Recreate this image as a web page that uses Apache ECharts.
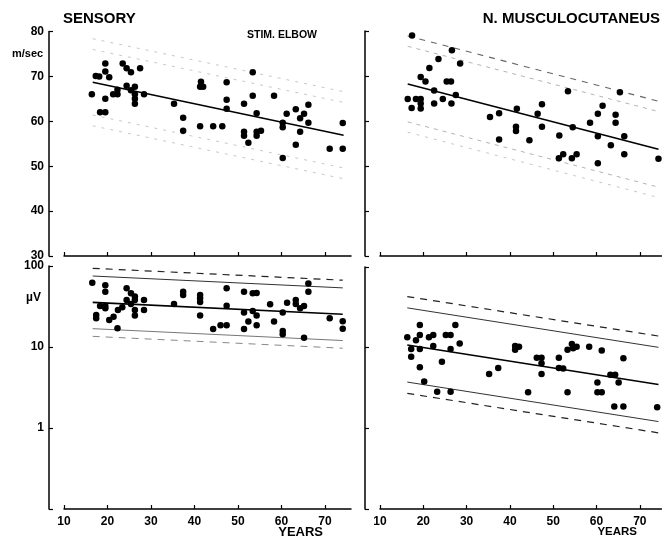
<!DOCTYPE html>
<html><head><meta charset="utf-8">
<script src="https://cdn.jsdelivr.net/npm/echarts@6/dist/echarts.min.js"></script>
<style>html,body{margin:0;padding:0;background:#fff}#c{width:662px;height:538px}</style>
</head><body><div id="c"></div><script>
// ---------- tick values ----------
const xTicks = [10, 20, 30, 40, 50, 60, 70];
const velTicks = [30, 40, 50, 60, 70, 80];
const ampTicks = [0.1, 1, 10, 100];

// ---------- Sensory conduction velocity (m/sec) ----------
const sensVelAge = [16.4,17.3,18.1,19.5,19.5,20.4,18.3,19.5,19.5,21.3,22.3,22.3,23.5,24.4,24.4,25.4,25.4,26.3,26.3,26.3,26.3,27.5,28.4,35.3,37.4,37.4,41.3,41.5,42,41.3,44.3,46.4,47.4,47.4,47.4,51.4,51.4,51.4,52.4,53.4,53.4,54.3,54.3,54.3,55.3,58.3,60.3,60.3,60.3,61.2,63.3,63.3,64.3,64.3,65.2,66.2,66.2,71.1,74.1,74.1];
const sensVel    = [66,70.1,70,72.9,71.1,69.8,62,62,65,66,66,67,72.9,71.8,67.9,70.9,66.9,67.7,66,65,63.9,71.8,66,63.9,60.8,57.9,58.9,68.8,67.7,67.7,58.9,58.9,68.7,64.8,62.8,63.9,57.7,56.8,55.2,70.9,65.7,61.8,57.7,56.8,57.9,65.7,59.7,58.7,51.8,61.7,62.7,54.8,57.7,60.7,61.7,63.7,59.7,53.9,59.6,53.9];
const sensVelFitAge = [16.6, 74.3];
const sensVelFit    = [68.7, 56.9];
const sensVelBands  = [7.3, 9.7];          // inner, outer (m/sec)

// ---------- Musculocutaneous motor velocity (m/sec) ----------
const muscVelAge = [17.4,26.6,23.5,21.4,28.5,19.4,20.5,25.4,26.4,22.5,27.5,16.4,18.3,19.4,24.5,17.3,19.4,19.4,22.5,26.5,35.4,37.5,37.5,41.6,41.4,41.4,44.5,46.4,47.4,47.4,51.4,51.3,52.3,53.4,54.3,55.4,54.5,58.5,60.3,60.3,60.3,61.4,63.3,64.4,64.4,65.4,66.4,66.4,74.3];
const muscVel    = [79,75.7,73.8,71.8,72.8,69.8,68.8,68.8,68.8,66.8,65.8,64.9,64.9,64.9,64.9,62.9,63.9,62.8,63.9,63.9,60.9,61.7,55.9,62.7,58.7,57.8,55.7,61.6,63.7,58.7,56.8,51.7,52.6,66.6,51.7,52.6,58.6,59.6,61.6,56.6,50.6,63.4,54.6,61.4,59.6,66.4,56.6,52.6,51.6];
const muscVelFitAge = [16.4, 74.3];
const muscVelFit    = [68.2, 53.7];
const muscVelBands  = [8.4, 10.7];

// ---------- Sensory amplitude (µV) ----------
const sensAmpAge = [16.5,17.4,17.4,18.3,19.5,19.5,19.5,19.5,20.4,21.4,22.3,22.4,23.4,24.4,24.4,25.4,25.4,26.3,26.3,26.3,26.3,28.4,28.4,35.3,37.4,37.4,41.3,41.3,41.3,41.3,44.3,46,47.4,47.4,47.4,51.4,51.4,51.4,52.4,53.4,53.4,54.3,54.3,54.3,57.4,58.3,60.3,60.3,60.3,61.3,63.3,63.3,64.3,65.2,65.2,66.2,66.2,71.1,74.1,74.1];
const sensAmp    = [62,24.8,22.6,32,32,58,48,30,21.5,23.7,17,28.7,31,38,53,34,46,42,38,28.7,24.4,38,28.7,34,48,44,44,40,36,24.4,16.7,18.6,18.6,53,32.4,48,26.6,16.7,20.6,46,27.8,46.5,24.4,18.6,33.8,20.6,26.6,15.8,14.4,35.2,38,34,30,32,13,61,48,22.6,20.8,16.8];
const sensAmpFitAge = [16.6, 74.1];
const sensAmpFit    = [35.6, 25.4];
const sensAmpBands  = [0.325, 0.42];       // log10 offsets

// ---------- Musculocutaneous amplitude (µV) ----------
const muscAmpAge = [16.3,17.2,17.2,18.3,19.2,19.2,19.2,19.2,20.2,21.3,22.3,22.3,23.2,24.3,25.2,26.3,26.3,26.3,27.4,28.4,35.2,37.3,41.2,41.2,42.1,44.2,46.2,47.3,47.3,47.3,51.3,51.3,52.3,53.3,53.3,54.3,54.6,55.4,58.3,60.2,60.2,61.2,61.2,63.2,64.3,65.1,64.1,66.2,66.2,74];
const muscAmp    = [13.5,9.6,7.7,12.4,19.1,14.4,9.6,5.7,3.8,13.5,14.4,10.5,2.85,6.7,14.4,14.4,9.6,2.85,19.1,11.3,4.7,5.6,10.5,9.4,10.3,2.8,7.5,7.5,6.4,4.7,7.5,5.6,5.5,2.8,9.4,11.1,9.8,10.3,10.3,3.7,2.8,2.8,9.2,4.6,4.6,3.7,1.86,1.86,7.4,1.83];
const muscAmpFitAge = [16.3, 74.3];
const muscAmpFit    = [10.8, 3.5];
const muscAmpBands  = [0.46, 0.6];

// ---------- helpers ----------
const zip = (a, b) => a.map((v, i) => [v, b[i]]);
const F = '"Liberation Sans", Arial, sans-serif';

function linSeries(idx, ages, fit, off, style) {
  return {
    type: 'line', xAxisIndex: idx, yAxisIndex: idx, symbol: 'none', silent: true,
    data: zip(ages, fit.map(v => v + off)), lineStyle: style, z: 2
  };
}
function logSeries(idx, ages, fit, off, style) {
  const k = Math.pow(10, off);
  return {
    type: 'line', xAxisIndex: idx, yAxisIndex: idx, symbol: 'none', silent: true,
    data: zip(ages, fit.map(v => v * k)), lineStyle: style, z: 2
  };
}
function scatter(idx, a, b) {
  return {
    type: 'scatter', xAxisIndex: idx, yAxisIndex: idx, symbol: 'circle', symbolSize: 6.5,
    itemStyle: { color: '#000', opacity: 1 }, data: zip(a, b), z: 3
  };
}

const axisLine = { show: true, lineStyle: { color: '#000', width: 1.5 } };
function xAx(grid, max, showLabels) {
  return {
    type: 'value', gridIndex: grid, min: 10, max: max, interval: 10,
    axisLine: axisLine,
    axisTick: { show: true, inside: true, length: 4, lineStyle: { color: '#000', width: 1.2 }, customValues: xTicks },
    axisLabel: { show: showLabels, customValues: xTicks, color: '#000', fontFamily: F, fontWeight: 'bold', fontSize: 12, margin: 7,
      formatter: v => (v % 10 === 0 ? String(v) : '') },
    splitLine: { show: false }
  };
}
function yVel(grid, showLabels) {
  return {
    type: 'value', gridIndex: grid, min: 30, max: 80, interval: 10, offset: 15,
    axisLine: axisLine,
    axisTick: { show: true, inside: true, length: 4, lineStyle: { color: '#000', width: 1.2 } },
    axisLabel: { show: showLabels, color: '#000', fontFamily: F, fontWeight: 'bold', fontSize: 12, margin: 5 },
    splitLine: { show: false }
  };
}
function yAmp(grid, showLabels) {
  return {
    type: 'log', logBase: 10, gridIndex: grid, min: 0.1, max: 100, offset: 15,
    axisLine: axisLine,
    axisTick: { show: true, inside: true, length: 4, lineStyle: { color: '#000', width: 1.2 } },
    minorTick: { show: false },
    axisLabel: { show: showLabels, color: '#000', fontFamily: F, fontWeight: 'bold', fontSize: 12, margin: 5,
      formatter: v => (v < 0.5 ? '' : String(Math.round(v))) },
    splitLine: { show: false }
  };
}

const faint = { color: '#c8c8c8', width: 1, type: [3, 6] };
const faint2 = { color: '#b4b4b4', width: 1, type: [4, 5] };
const fitStyle = { color: '#000', width: 1.6, type: 'solid' };
const dashDark = { color: '#222', width: 1.2, type: [7, 6] };
const thinDark = { color: '#333', width: 1, type: 'solid' };
const thinGray = { color: '#777', width: 1, type: 'solid' };
const dashGray = { color: '#888', width: 1, type: [7, 6] };
const dashMid = { color: '#666', width: 1.1, type: [6, 6] };

const grids = [
  { left: 64, top: 31.5, width: 287, height: 224.5 },
  { left: 380, top: 31, width: 281.5, height: 225 },
  { left: 64, top: 266, width: 287, height: 243 },
  { left: 380, top: 267, width: 281.5, height: 242 }
];

const series = [
  // top-left
  linSeries(0, sensVelFitAge, sensVelFit, sensVelBands[1], faint),
  linSeries(0, sensVelFitAge, sensVelFit, sensVelBands[0], faint),
  linSeries(0, sensVelFitAge, sensVelFit, -sensVelBands[0], faint),
  linSeries(0, sensVelFitAge, sensVelFit, -sensVelBands[1], faint),
  linSeries(0, sensVelFitAge, sensVelFit, 0, fitStyle),
  scatter(0, sensVelAge, sensVel),
  // top-right
  linSeries(1, muscVelFitAge, muscVelFit, muscVelBands[1], dashMid),
  linSeries(1, muscVelFitAge, muscVelFit, muscVelBands[0], faint2),
  linSeries(1, muscVelFitAge, muscVelFit, -muscVelBands[0], faint2),
  linSeries(1, muscVelFitAge, muscVelFit, -muscVelBands[1], faint),
  linSeries(1, muscVelFitAge, muscVelFit, 0, fitStyle),
  scatter(1, muscVelAge, muscVel),
  // bottom-left
  logSeries(2, sensAmpFitAge, sensAmpFit, sensAmpBands[1], dashDark),
  logSeries(2, sensAmpFitAge, sensAmpFit, sensAmpBands[0], thinDark),
  logSeries(2, sensAmpFitAge, sensAmpFit, -sensAmpBands[0], thinGray),
  logSeries(2, sensAmpFitAge, sensAmpFit, -sensAmpBands[1], dashGray),
  logSeries(2, sensAmpFitAge, sensAmpFit, 0, fitStyle),
  scatter(2, sensAmpAge, sensAmp),
  // bottom-right
  logSeries(3, muscAmpFitAge, muscAmpFit, muscAmpBands[1], dashDark),
  logSeries(3, muscAmpFitAge, muscAmpFit, muscAmpBands[0], thinDark),
  logSeries(3, muscAmpFitAge, muscAmpFit, -muscAmpBands[0], thinDark),
  logSeries(3, muscAmpFitAge, muscAmpFit, -muscAmpBands[1], dashDark),
  logSeries(3, muscAmpFitAge, muscAmpFit, 0, fitStyle),
  scatter(3, muscAmpAge, muscAmp)
];

function txt(x, y, text, size, align) {
  return { type: 'text', x: x, y: y, silent: true,
    style: { text: text, fill: '#000', font: 'bold ' + size + 'px ' + F, align: align || 'left', verticalAlign: 'middle' } };
}

const chart = echarts.init(document.getElementById('c'), null, { renderer: 'canvas' });
chart.setOption({
  animation: false,
  backgroundColor: '#fff',
  grid: grids,
  xAxis: [xAx(0, 76, false), xAx(1, 75, false), xAx(2, 76, true), xAx(3, 75, true)],
  yAxis: [yVel(0, true), yVel(1, false), yAmp(2, true), yAmp(3, false)],
  series: series,
  graphic: [
    txt(63, 19, 'SENSORY', 15),
    txt(660, 19, 'N. MUSCULOCUTANEUS', 15, 'right'),
    txt(247, 35.5, 'STIM. ELBOW', 10.5),
    txt(12, 53.5, 'm/sec', 11),
    txt(26, 298, 'µV', 12),
    txt(323, 532, 'YEARS', 13, 'right'),
    txt(637, 532, 'YEARS', 11.5, 'right')
  ]
});
</script></body></html>
